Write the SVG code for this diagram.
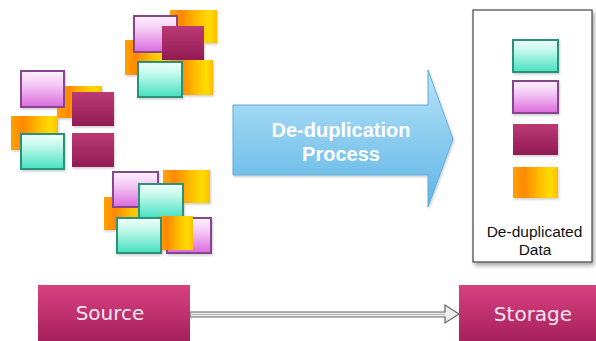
<svg xmlns="http://www.w3.org/2000/svg" width="596" height="341" viewBox="0 0 596 341">
  <defs>
    <linearGradient id="gTeal" x1="0" y1="0" x2="0" y2="1">
      <stop offset="0" stop-color="#f2fffb"/>
      <stop offset="0.35" stop-color="#bff8e9"/>
      <stop offset="1" stop-color="#46e0c0"/>
    </linearGradient>
    <linearGradient id="gPink" x1="0" y1="0" x2="0" y2="1">
      <stop offset="0" stop-color="#fff2ff"/>
      <stop offset="0.4" stop-color="#f3c6f3"/>
      <stop offset="1" stop-color="#dc6ade"/>
    </linearGradient>
    <linearGradient id="gMag" x1="0" y1="0" x2="0" y2="1">
      <stop offset="0" stop-color="#bb3a74"/>
      <stop offset="1" stop-color="#921b54"/>
    </linearGradient>
    <linearGradient id="gOrange" x1="0" y1="0" x2="1" y2="0">
      <stop offset="0" stop-color="#ffa400"/>
      <stop offset="0.25" stop-color="#ff8800"/>
      <stop offset="0.6" stop-color="#ffbf00"/>
      <stop offset="0.85" stop-color="#ffdc00"/>
      <stop offset="1" stop-color="#ffbc00"/>
    </linearGradient>
    <linearGradient id="gBox" x1="0" y1="0" x2="0" y2="1">
      <stop offset="0" stop-color="#d8427f"/>
      <stop offset="1" stop-color="#a21e58"/>
    </linearGradient>
    <linearGradient id="gArrow" x1="0" y1="0" x2="0" y2="1">
      <stop offset="0" stop-color="#b8e3f8"/>
      <stop offset="1" stop-color="#5eb5e6"/>
    </linearGradient>
    <filter id="shadow" x="-10%" y="-10%" width="130%" height="130%">
      <feDropShadow dx="2" dy="3" stdDeviation="2" flood-color="#000" flood-opacity="0.35"/>
    </filter>
    <filter id="soft" x="-10%" y="-10%" width="130%" height="130%">
      <feDropShadow dx="1" dy="1.5" stdDeviation="1" flood-color="#000" flood-opacity="0.2"/>
    </filter>
  </defs>
  <style>
    .teal { fill: url(#gTeal); stroke: #2b9278; stroke-width: 2; }
    .pink { fill: url(#gPink); stroke: #84468e; stroke-width: 2; }
    .mag { fill: url(#gMag); }
    .orange { fill: url(#gOrange); }
    .blk { filter: url(#soft); }
    .box { fill: url(#gBox); }
    .boxText { font-family: "DejaVu Sans", Verdana, sans-serif; font-size: 20px; fill: #fbe6f0; text-anchor: middle; }
    .procText { font-family: "Liberation Sans", Arial, sans-serif; font-size: 20px; font-weight: bold; fill: #ffffff; text-anchor: middle; }
    .dataText { font-family: "Liberation Sans", Arial, sans-serif; font-size: 15.5px; fill: #111; text-anchor: middle; }
  </style>

  <rect width="596" height="341" fill="#ffffff"/>

  <!-- top cluster of data blocks -->
  <g id="cluster-top" class="blk">
    <rect class="orange" x="170" y="10" width="47" height="33"/>
    <rect class="orange" x="125" y="40" width="45" height="35"/>
    <rect class="orange" x="170" y="60" width="43" height="35"/>
    <rect class="pink" x="134" y="16" width="43" height="36"/>
    <rect class="mag" x="162" y="26" width="42" height="34"/>
    <rect class="teal" x="138" y="62" width="44" height="35"/>
  </g>

  <!-- left cluster of data blocks -->
  <g id="cluster-left" class="blk">
    <rect class="orange" x="57" y="86" width="45" height="32"/>
    <rect class="pink" x="21" y="71" width="43" height="36"/>
    <rect class="mag" x="72" y="92" width="42" height="34"/>
    <rect class="orange" x="11" y="116" width="47" height="34"/>
    <rect class="teal" x="21" y="134" width="43" height="35"/>
    <rect class="mag" x="72" y="133" width="42" height="34"/>
  </g>

  <!-- bottom cluster of data blocks -->
  <g id="cluster-bottom" class="blk">
    <rect class="orange" x="163" y="170" width="47" height="33"/>
    <rect class="orange" x="104" y="197" width="45" height="33"/>
    <rect class="pink" x="113" y="172" width="45" height="35"/>
    <rect class="teal" x="139" y="184" width="44" height="34"/>
    <rect class="pink" x="167" y="218" width="44" height="35"/>
    <rect class="orange" x="158" y="216" width="35" height="34"/>
    <rect class="teal" x="117" y="218" width="44" height="35"/>
  </g>

  <!-- de-duplication process arrow -->
  <g id="process">
    <path d="M233,105 H428 V70 L453,139 L428,207 V175 H233 Z" fill="url(#gArrow)" stroke="#62acd8" stroke-width="1" filter="url(#soft)"/>
    <text class="procText" x="341" y="136.5">De-duplication</text>
    <text class="procText" x="341" y="160.5">Process</text>
  </g>

  <!-- de-duplicated data panel -->
  <g id="dedup-data">
    <rect x="473" y="10" width="119" height="252" fill="#ffffff" stroke="#444" stroke-width="1.2" filter="url(#shadow)"/>
    <g class="blk">
      <rect class="teal" x="513" y="40" width="45" height="32"/>
      <rect class="pink" x="513" y="81" width="45" height="32"/>
      <rect class="mag" x="513" y="124" width="45" height="31"/>
      <rect class="orange" x="513" y="167" width="45" height="31"/>
    </g>
    <text class="dataText" x="534.5" y="237">De-duplicated</text>
    <text class="dataText" x="535" y="255">Data</text>
  </g>

  <!-- source -->
  <g id="source">
    <rect class="box" x="38" y="285" width="152" height="60"/>
    <text class="boxText" x="110" y="320">Source</text>
  </g>

  <!-- storage -->
  <g id="storage">
    <rect class="box" x="459" y="285" width="150" height="60"/>
    <text class="boxText" x="533" y="321">Storage</text>
  </g>

  <!-- connectors -->
  <g id="connectors">
    <path d="M190,312 H445 V305 L459,314 L445,323 V317 H190 Z" fill="#ececec" stroke="#666" stroke-width="1.2" stroke-linejoin="miter"/>
    <line x1="190" y1="314.5" x2="445" y2="314.5" stroke="#b5b5b5" stroke-width="1"/>
  </g>
</svg>
